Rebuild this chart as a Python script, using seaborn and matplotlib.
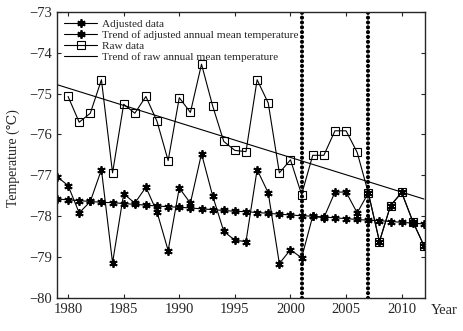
import numpy as np
import pandas as pd
import seaborn as sns
import matplotlib
matplotlib.use('Agg')
import matplotlib.pyplot as plt

# ── Data ───────────────────────────────────────────────────────────
years_raw = list(range(1980, 2013))
raw = [-75.07, -75.70, -75.48, -74.66, -76.94, -75.26, -75.48, -75.07, -75.68, -76.64,
       -75.10, -75.46, -74.28, -75.30, -76.17, -76.39, -76.42, -74.66, -75.23, -76.94,
       -76.62, -77.47, -76.51, -76.51, -75.91, -75.91, -76.44, -77.43, -78.62, -77.74,
       -77.42, -78.13, -78.72]

years_adj = list(range(1979, 2013))
adjusted = [-77.03, -77.25, -77.92, -77.64, -76.86, -79.14, -77.45, -77.68, -77.29, -77.90,
            -78.84, -77.31, -77.68, -76.47, -77.50, -78.37, -78.59, -78.62, -76.86, -77.43,
            -79.16, -78.82, -79.02, -78.00, -78.04, -77.41, -77.41, -77.92, -77.43, -78.62,
            -77.74, -77.42, -78.13, -78.72]

trend_adj = [-77.58, -77.60, -77.62, -77.64, -77.66, -77.67, -77.69, -77.71, -77.73, -77.75,
             -77.77, -77.78, -77.80, -77.82, -77.84, -77.86, -77.88, -77.89, -77.91, -77.93,
             -77.95, -77.97, -77.99, -78.00, -78.02, -78.04, -78.06, -78.08, -78.10, -78.11,
             -78.13, -78.15, -78.17, -78.19]

years_trend_raw = [1979, 2012]
trend_raw = [-74.78, -77.58]

breakpoints = [2001, 2007]

df_raw = pd.DataFrame({'year': years_raw, 'temp': raw})
df_adj = pd.DataFrame({'year': years_adj, 'temp': adjusted, 'trend': trend_adj})
df_traw = pd.DataFrame({'year': years_trend_raw, 'temp': trend_raw})

# ── Style ──────────────────────────────────────────────────────────
sns.set_style('ticks')
plt.rcParams['font.family'] = ['Liberation Serif', 'DejaVu Serif', 'DejaVu Sans']
plt.rcParams['xtick.direction'] = 'in'
plt.rcParams['ytick.direction'] = 'in'

fig = plt.figure(figsize=(4.63, 3.31), dpi=100)
ax = fig.add_axes([0.123, 0.1, 0.795, 0.864])

lw = 0.8
star = dict(marker=(6, 2, 0), markersize=6, mew=1.3, mec='black', mfc='black')
sns.lineplot(data=df_adj, x='year', y='temp', ax=ax, color='black', lw=lw,
             label='Adjusted data', **star)
sns.lineplot(data=df_adj, x='year', y='trend', ax=ax, color='black', lw=lw,
             label='Trend of adjusted annual mean temperature', **star)
sns.lineplot(data=df_raw, x='year', y='temp', ax=ax, color='black', lw=lw,
             marker='s', markersize=5.5, mec='black', mfc='none', mew=0.8,
             label='Raw data')
sns.lineplot(data=df_traw, x='year', y='temp', ax=ax, color='black', lw=lw,
             label='Trend of raw annual mean temperature')

# break points: thick densely dotted lines
for bp in breakpoints:
    ax.axvline(bp, color='black', ls=(0, (0.01, 1.15)), lw=3.0,
               dash_capstyle='round')

ax.set_xlim(1979, 2012.1)
ax.set_ylim(-80, -73)
ax.set_xticks(range(1980, 2011, 5))
ax.set_yticks(range(-80, -72))
ax.tick_params(top=True, right=True, labelsize=10.5, length=3, width=0.8)
for sp in ax.spines.values():
    sp.set_linewidth(1.0)

ax.set_xlabel('')
ax.set_ylabel('Temperature (℃)', fontsize=10)
ax.yaxis.set_label_coords(-0.1, 0.49)
ax.text(1.015, -0.022, 'Year', transform=ax.transAxes, va='top', ha='left', fontsize=10.5)

ax.legend(loc='upper left', frameon=False, fontsize=8.1, handlelength=3.0,
          labelspacing=0.12, borderaxespad=0.2, handletextpad=0.4)

plt.savefig('out.png', dpi=100)
plt.close()
